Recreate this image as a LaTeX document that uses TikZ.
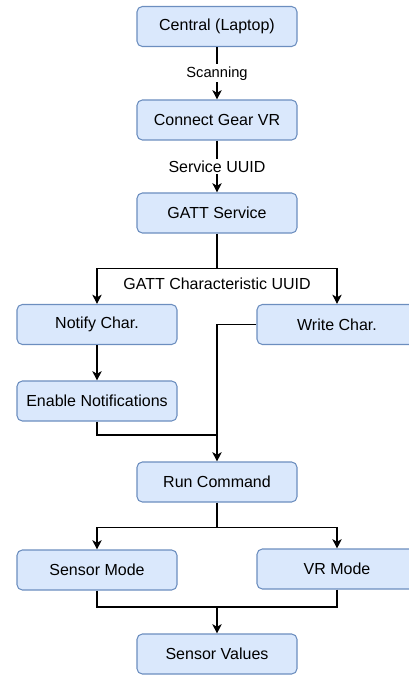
\documentclass[tikz,border=0pt]{standalone}
\usepackage{fontspec}
\setmainfont{Liberation Sans}
\usetikzlibrary{arrows.meta}
\definecolor{boxfill}{HTML}{DAE8FC}
\definecolor{boxline}{HTML}{6C8EBF}

\begin{document}
\begin{tikzpicture}[x=0.75pt,y=-0.75pt,line width=0.8pt,
    >={Stealth[length=7pt,width=7pt,inset=2pt]},
    box/.style={draw=boxline,fill=boxfill,rounded corners=4pt,minimum width=120pt,
        minimum height=30pt,font=\fontsize{12}{14}\selectfont},
    lbl/.style={fill=white,inner sep=1.5pt,font=\fontsize{11}{13}\selectfont}]
    \useasboundingbox (0,0) rectangle (409,677);
    \node[box] (central) at (217,26.5) {Central (Laptop)};
    \node[box] (connect) at (217,120) {Connect Gear VR};
    \node[box] (gatt) at (217,213) {GATT Service};
    \node[box] (notify) at (97,324.5) {Notify Char.};
    \node[box] (write) at (337,324.5) {Write Char.};
    \node[box] (enable) at (97,401) {Enable Notifications};
    \node[box] (run) at (217,482) {Run Command};
    \node[box] (sensor) at (97,570) {Sensor Mode};
    \node[box] (vr) at (337,569) {VR Mode};
    \node[box] (values) at (217,654) {Sensor Values};
    \path[->]
    (central) edge node[lbl]{Scanning} (connect)
    (connect) edge node[lbl,font=\fontsize{12}{14}\selectfont]{Service UUID} (gatt);
    % characteristics
    \draw[->] (gatt.south) -- ++(0,35) coordinate (split1) -| (notify.north);
    \draw[->] (split1) -| (write.north);
    \node[below=3pt,font=\fontsize{12}{14}\selectfont] (charlbl) at (split1) {GATT Characteristic UUID};
    \draw[->] (notify) -- (enable);
    \coordinate (join1) at (217,435);
    \draw (enable.south) |- (join1);
    \draw[->] (write.west) -| (run.north);
    % modes
    \draw[->] (run.south) -- ++(0,25) coordinate (split2) -| (sensor.north);
    \draw[->] (split2) -| (vr.north);
    \coordinate (join2) at (217,607);
    \draw (sensor.south) |- (join2);
    \draw (vr.south) |- (join2);
    \draw[->] (join2) -- (values.north);
\end{tikzpicture}
\end{document}
